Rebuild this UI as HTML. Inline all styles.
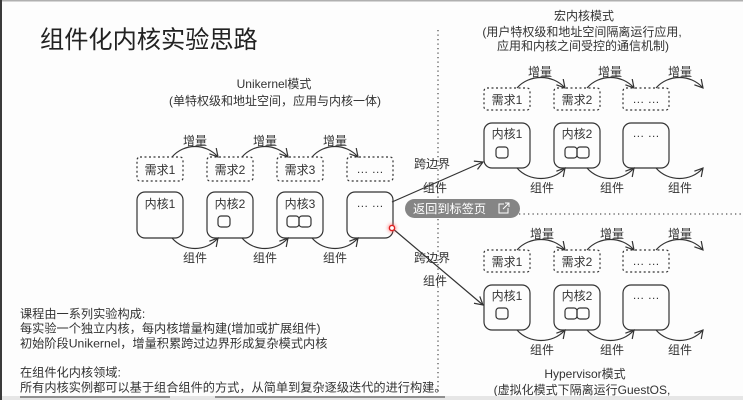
<!DOCTYPE html>
<html>
<head>
<meta charset="utf-8">
<style>
  html,body{margin:0;padding:0;background:#fff;}
  svg{display:block;}
  text{font-family:"Liberation Sans","Noto Sans CJK SC",sans-serif;fill:#333;}
</style>
</head>
<body>
<svg width="743" height="400" viewBox="0 0 743 400" xmlns="http://www.w3.org/2000/svg">
  <defs>
    <marker id="ah" markerUnits="userSpaceOnUse" markerWidth="12" markerHeight="12" refX="9" refY="5" orient="auto">
      <path d="M1,0.5 L9,5 L1,9.5" fill="none" stroke="#333" stroke-width="1.2"/>
    </marker>
    <filter id="glow" x="-2" y="-2" width="5" height="5">
      <feGaussianBlur stdDeviation="1.5"/>
    </filter>
  </defs>

  <rect x="0" y="0" width="743" height="400" fill="#fdfdfd"/>
  <!-- frame edges -->
  <rect x="0" y="0" width="743" height="1.5" fill="#b0b0b0"/>
  <rect x="0" y="0" width="2" height="400" fill="#3a3a3a"/>

  <!-- Title -->
  <text x="40" y="48" font-size="24.2" fill="#222" style="fill:#222">组件化内核实验思路</text>

  <!-- Unikernel header -->
  <text x="274" y="88" font-size="12" text-anchor="middle">Unikernel模式</text>
  <text x="275" y="105" font-size="12" text-anchor="middle">(单特权级和地址空间，应用与内核一体)</text>

  <!-- Left diagram -->
  <g fill="none" stroke="#333" stroke-width="1.2">
    <rect x="137" y="157" width="46" height="24" rx="3" stroke-dasharray="2,2.5"/>
    <rect x="207" y="157" width="46" height="24" rx="3" stroke-dasharray="2,2.5"/>
    <rect x="277" y="157" width="46" height="24" rx="3" stroke-dasharray="2,2.5"/>
    <rect x="347" y="157" width="46" height="24" rx="3" stroke-dasharray="2,2.5"/>

    <rect x="137" y="192" width="46" height="46" rx="8"/>
    <rect x="207" y="192" width="46" height="46" rx="8"/>
    <rect x="277" y="192" width="46" height="46" rx="8"/>
    <rect x="347" y="192" width="46" height="46" rx="8"/>

    <rect x="218" y="216" width="12" height="11" rx="3"/>
    <rect x="287" y="216" width="12" height="11" rx="3"/>
    <rect x="299" y="216" width="12" height="11" rx="3"/>

    <path d="M172,157 C184,143 206,143 218,157" marker-end="url(#ah)"/>
    <path d="M242,157 C254,143 276,143 288,157" marker-end="url(#ah)"/>
    <path d="M312,157 C324,143 346,143 358,157" marker-end="url(#ah)"/>

    <path d="M172,238 C184,252 206,252 218,238" marker-end="url(#ah)"/>
    <path d="M242,238 C254,252 276,252 288,238" marker-end="url(#ah)"/>
    <path d="M312,238 C324,252 346,252 358,238" marker-end="url(#ah)"/>
  </g>
  <g font-size="12" text-anchor="middle">
    <text x="195" y="145">增量</text>
    <text x="265" y="145">增量</text>
    <text x="335" y="145">增量</text>
    <text x="160" y="174">需求1</text>
    <text x="230" y="174">需求2</text>
    <text x="300" y="174">需求3</text>
    <text x="370" y="173">… …</text>
    <text x="160" y="208">内核1</text>
    <text x="230" y="208">内核2</text>
    <text x="300" y="208">内核3</text>
    <text x="370" y="207">… …</text>
    <text x="195" y="262">组件</text>
    <text x="265" y="262">组件</text>
    <text x="335" y="262">组件</text>
  </g>

  <!-- Dotted separators -->
  <g stroke="#555" stroke-width="1.3" stroke-dasharray="1.3,3.2" fill="none">
    <line x1="438" y1="30" x2="438" y2="392"/>
    <line x1="438" y1="214" x2="743" y2="214"/>
  </g>

  <!-- Macro kernel header -->
  <g font-size="12" text-anchor="middle">
    <text x="584" y="20">宏内核模式</text>
    <text x="582" y="36">(用户特权级和地址空间隔离运行应用,</text>
    <text x="583" y="50">应用和内核之间受控的通信机制)</text>
  </g>

  <!-- Right top diagram -->
  <g fill="none" stroke="#333" stroke-width="1.2">
    <rect x="484" y="88" width="46" height="22" rx="3" stroke-dasharray="2,2.5"/>
    <rect x="554" y="88" width="46" height="22" rx="3" stroke-dasharray="2,2.5"/>
    <rect x="623" y="88" width="46" height="22" rx="3" stroke-dasharray="2,2.5"/>

    <rect x="484" y="123" width="46" height="45" rx="8"/>
    <rect x="554" y="123" width="46" height="45" rx="8"/>
    <rect x="623" y="123" width="46" height="45" rx="8"/>

    <rect x="496" y="147" width="12" height="11" rx="3"/>
    <rect x="565" y="147" width="12" height="11" rx="3"/>
    <rect x="577" y="147" width="12" height="11" rx="3"/>

    <path d="M517,88 C529,74 553,74 565,88" marker-end="url(#ah)"/>
    <path d="M587,88 C599,74 622,74 634,88" marker-end="url(#ah)"/>
    <path d="M656,88 C668,74 691,74 703,88" marker-end="url(#ah)"/>

    <path d="M517,168 C529,182 553,182 565,168" marker-end="url(#ah)"/>
    <path d="M587,168 C599,182 622,182 634,168" marker-end="url(#ah)"/>
    <path d="M656,168 C668,182 691,182 703,168" marker-end="url(#ah)"/>
  </g>
  <g font-size="12" text-anchor="middle">
    <text x="540" y="76">增量</text>
    <text x="610" y="76">增量</text>
    <text x="680" y="76">增量</text>
    <text x="507" y="104">需求1</text>
    <text x="577" y="104">需求2</text>
    <text x="646" y="103">… …</text>
    <text x="507" y="138">内核1</text>
    <text x="577" y="138">内核2</text>
    <text x="646" y="137">… …</text>
    <text x="542" y="192">组件</text>
    <text x="612" y="192">组件</text>
    <text x="680" y="192">组件</text>
  </g>

  <!-- Right bottom diagram -->
  <g fill="none" stroke="#333" stroke-width="1.2">
    <rect x="484" y="250" width="46" height="22" rx="3" stroke-dasharray="2,2.5"/>
    <rect x="554" y="250" width="46" height="22" rx="3" stroke-dasharray="2,2.5"/>
    <rect x="623" y="250" width="46" height="22" rx="3" stroke-dasharray="2,2.5"/>

    <rect x="484" y="285" width="46" height="45" rx="8"/>
    <rect x="554" y="285" width="46" height="45" rx="8"/>
    <rect x="623" y="285" width="46" height="45" rx="8"/>

    <rect x="496" y="308" width="12" height="11" rx="3"/>
    <rect x="565" y="308" width="12" height="11" rx="3"/>
    <rect x="577" y="308" width="12" height="11" rx="3"/>

    <path d="M517,250 C529,236 553,236 565,250" marker-end="url(#ah)"/>
    <path d="M587,250 C599,236 622,236 634,250" marker-end="url(#ah)"/>
    <path d="M656,250 C668,236 691,236 703,250" marker-end="url(#ah)"/>

    <path d="M517,330 C529,344 553,344 565,330" marker-end="url(#ah)"/>
    <path d="M587,330 C599,344 622,344 634,330" marker-end="url(#ah)"/>
    <path d="M656,330 C668,344 691,344 703,330" marker-end="url(#ah)"/>
  </g>
  <g font-size="12" text-anchor="middle">
    <text x="542" y="238">增量</text>
    <text x="612" y="238">增量</text>
    <text x="680" y="238">增量</text>
    <text x="507" y="266">需求1</text>
    <text x="577" y="266">需求2</text>
    <text x="646" y="265">… …</text>
    <text x="507" y="300">内核1</text>
    <text x="577" y="300">内核2</text>
    <text x="646" y="299">… …</text>
    <text x="542" y="354">组件</text>
    <text x="612" y="354">组件</text>
    <text x="680" y="354">组件</text>
    <text x="585" y="378">Hypervisor模式</text>
    <text x="582" y="394">(虚拟化模式下隔离运行GuestOS,</text>
  </g>

  <!-- Cross-boundary arrows -->
  <g fill="none" stroke="#333" stroke-width="1.2">
    <line x1="392" y1="202" x2="483" y2="162" marker-end="url(#ah)"/>
    <line x1="392" y1="228" x2="483" y2="305" marker-end="url(#ah)"/>
  </g>
  <g font-size="12" text-anchor="middle">
    <text x="432" y="168">跨边界</text>
    <text x="435" y="192">组件</text>
    <text x="432" y="262">跨边界</text>
    <text x="435" y="285">组件</text>
  </g>

  <!-- red cursor dot -->
  <circle cx="392" cy="228" r="4.5" fill="#ff5050" opacity="0.5" filter="url(#glow)"/>
  <circle cx="392" cy="228" r="2.6" fill="#fff" stroke="#e02020" stroke-width="1.4"/>

  <!-- return pill -->
  <rect x="405" y="199" width="115" height="19" rx="9.5" fill="#858585"/>
  <text x="413" y="213" font-size="12.2" style="fill:#fff">返回到标签页</text>
  <g fill="none" stroke="#fff" stroke-width="1">
    <path d="M504,204 L499,204 L499,213 L508,213 L508,208"/>
    <path d="M503,209 L509,203 M505,203 L509,203 L509,207"/>
  </g>

  <!-- Left description text -->
  <g font-size="12.2">
    <text x="20" y="318">课程由一系列实验构成:</text>
    <text x="20" y="332.5">每实验一个独立内核，每内核增量构建(增加或扩展组件)</text>
    <text x="20" y="347.5">初始阶段Unikernel，增量积累跨过边界形成复杂模式内核</text>
    <text x="20" y="376.5">在组件化内核领域:</text>
    <text x="20" y="391.5">所有内核实例都可以基于组合组件的方式，从简单到复杂逐级迭代的进行构建。</text>
  </g>

  <!-- bottom strip -->
  <rect x="2" y="396" width="741" height="4" fill="#e6e6e6"/>
  <g fill="#555" opacity="0.6">
    <rect x="20" y="396" width="150" height="2"/>
    <rect x="215" y="396" width="230" height="2"/>
  </g>
</svg>
</body>
</html>
